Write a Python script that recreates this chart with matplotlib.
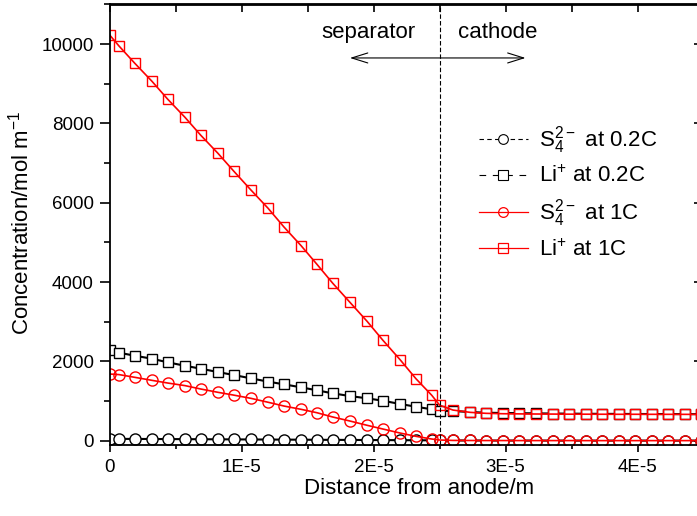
import numpy as np
import matplotlib
matplotlib.use("Agg")
import matplotlib.pyplot as plt
from matplotlib.patches import FancyArrowPatch
from matplotlib.lines import Line2D
from matplotlib.ticker import MultipleLocator, FixedLocator

plt.rcParams['font.family'] = ['Liberation Sans', 'DejaVu Sans']
plt.rcParams['mathtext.fontset'] = 'custom'
plt.rcParams['mathtext.rm'] = 'Liberation Sans'

# distance from anode, in units of 1E-5 m (separator part, then cathode part)
x_sep = [0, 0.07, 0.19, 0.32, 0.44, 0.57, 0.69, 0.82, 0.94, 1.07, 1.2,
         1.32, 1.45, 1.57, 1.69, 1.82, 1.95, 2.07, 2.2, 2.32, 2.44, 2.5]
x_cat = [2.6, 2.73, 2.85, 2.98, 3.1, 3.23, 3.36, 3.48, 3.61, 3.73, 3.86,
         3.98, 4.11, 4.23, 4.36, 4.48]

# concentrations, mol m^-1
s4_02C = [48, 47, 45, 44, 42, 40, 38, 36, 34, 32, 30, 28, 26, 24, 22, 20,
          18, 16, 14, 12, 10, 9,
          7, 6, 5, 5, 4, 4, 4, 3, 3, 3, 3, 3, 3, 3, 3, 3]
li_02C = [2288, 2220, 2144, 2068, 1977, 1891, 1816, 1732, 1657, 1573, 1490,
          1422, 1347, 1271, 1195, 1127, 1069, 1009, 926, 858, 792, 757,
          749, 724, 706, 700, 695, 690, 686, 683, 680, 678, 676, 675, 673,
          672, 671, 670]
s4_1C = [1682, 1668, 1599, 1523, 1455, 1390, 1304, 1221, 1150, 1069, 970,
         875, 792, 706, 598, 497, 389, 295, 194, 111, 43, 18,
         8, 6, 5, 5, 4, 4, 4, 4, 3, 3, 3, 3, 3, 3, 3, 3]
li_1C = [10230, 9955, 9518, 9064, 8610, 8156, 7702, 7248, 6797, 6322, 5861,
         5390, 4918, 4449, 3970, 3490, 3011, 2532, 2043, 1564, 1145, 895,
         774, 716, 691, 681, 677, 674, 672, 670, 669, 668, 667, 667, 666,
         666, 665, 665]

labels = [r'$\mathregular{S_4^{2-}}$ at 0.2C', r'Li$\mathregular{^{+}}$ at 0.2C',
          r'$\mathregular{S_4^{2-}}$ at 1C', r'Li$\mathregular{^{+}}$ at 1C']
x_ticks = [0, 1e-5, 2e-5, 3e-5, 4e-5]
x_ticklabels = ["0", "1E-5", "2E-5", "3E-5", "4E-5"]

dist = np.array(x_sep + x_cat) * 1e-5

fig = plt.figure(figsize=(6.97, 5.16), dpi=100)
ax = fig.add_axes([109.7 / 697, 1 - 444.7 / 516, 594 / 697, 440.2 / 516])

ax.plot(dist, s4_02C, color='black', lw=1.5,
        marker='o', ms=8, mfc='white', mec='black', mew=1)
ax.plot(dist, li_02C, color='black', lw=1.5,
        marker='s', ms=7.5, mfc='white', mec='black', mew=1)
ax.plot(dist, s4_1C, color='red', lw=1.2,
        marker='o', ms=8, mfc='none', mec='red', mew=1)
ax.plot(dist, li_1C, color='red', lw=1.2,
        marker='s', ms=7.5, mfc='none', mec='red', mew=1)

# legend handles (the 0.2C ones are shown dashed in the original legend)
handles = [
    Line2D([], [], color='black', lw=0.8, ls=(0, (4, 3)), marker='o', ms=7,
           mfc='white', mec='black', mew=0.8),
    Line2D([], [], color='black', lw=0.8, ls=(0, (6, 6)), marker='s', ms=6.5,
           mfc='white', mec='black', mew=0.8),
    Line2D([], [], color='red', lw=0.9, marker='o', ms=7, mfc='none',
           mec='red', mew=0.9),
    Line2D([], [], color='red', lw=0.9, marker='s', ms=6.5, mfc='none',
           mec='red', mew=0.9),
]

# separator / cathode boundary
ax.axvline(2.5e-5, color='black', lw=0.8, ls=(0, (4, 2)))
ax.text(1.957e-5, 10157, 'separator', ha='center', va='baseline', fontsize=16)
ax.text(2.94e-5, 10157, 'cathode', ha='center', va='baseline', fontsize=16)
arr = FancyArrowPatch((1.82e-5, 9652), (3.15e-5, 9652),
                      arrowstyle='<->,head_length=1.15,head_width=0.36',
                      mutation_scale=10, lw=0.8, color='black',
                      shrinkA=0, shrinkB=0)
ax.add_patch(arr)

ax.set_xlim(0, 4.5e-5)
ax.set_ylim(-100, 11000)
ax.xaxis.set_major_locator(FixedLocator(x_ticks))
ax.set_xticklabels(x_ticklabels)
ax.xaxis.set_minor_locator(MultipleLocator(0.5e-5))
ax.yaxis.set_major_locator(MultipleLocator(2000))
ax.yaxis.set_minor_locator(MultipleLocator(1000))

ax.tick_params(axis='x', which='major', direction='out', length=5, width=1.2,
               labelsize=13.5, pad=5.5)
ax.tick_params(axis='x', which='minor', direction='out', length=3, width=1.2)
ax.tick_params(axis='y', which='major', direction='out', length=7, width=1.2,
               labelsize=13.5, pad=4.5)
ax.tick_params(axis='y', which='minor', direction='out', length=4, width=1.2)
for s in ax.spines.values():
    s.set_linewidth(1.3)

# mirrored inward ticks on top and right
top = ax.secondary_xaxis('top')
top.xaxis.set_major_locator(FixedLocator(x_ticks))
top.xaxis.set_minor_locator(MultipleLocator(0.5e-5))
top.tick_params(which='both', direction='in', length=6, width=1.2,
                labeltop=False)
top.spines['top'].set_linewidth(1.3)
right = ax.secondary_yaxis('right')
right.yaxis.set_major_locator(MultipleLocator(2000))
right.yaxis.set_minor_locator(MultipleLocator(1000))
right.tick_params(which='major', direction='in', length=7, width=1.2,
                  labelright=False)
right.tick_params(which='minor', direction='in', length=4, width=1.2)

ax.set_xlabel('Distance from anode/m', fontsize=16)
ax.xaxis.set_label_coords(0.52, -0.075)
ax.set_ylabel(r'Concentration/mol m$\mathregular{^{-1}}$', fontsize=16)
ax.yaxis.set_label_coords(-0.128, 0.505)

ax.legend(handles, labels, loc='upper left',
          bbox_to_anchor=(479 / 697, 1 - 124 / 516),
          bbox_transform=fig.transFigure, frameon=False, fontsize=16,
          borderpad=0, borderaxespad=0, handlelength=2.2,
          handletextpad=0.5, labelspacing=0.45)

fig.savefig('out.png', dpi=100)
